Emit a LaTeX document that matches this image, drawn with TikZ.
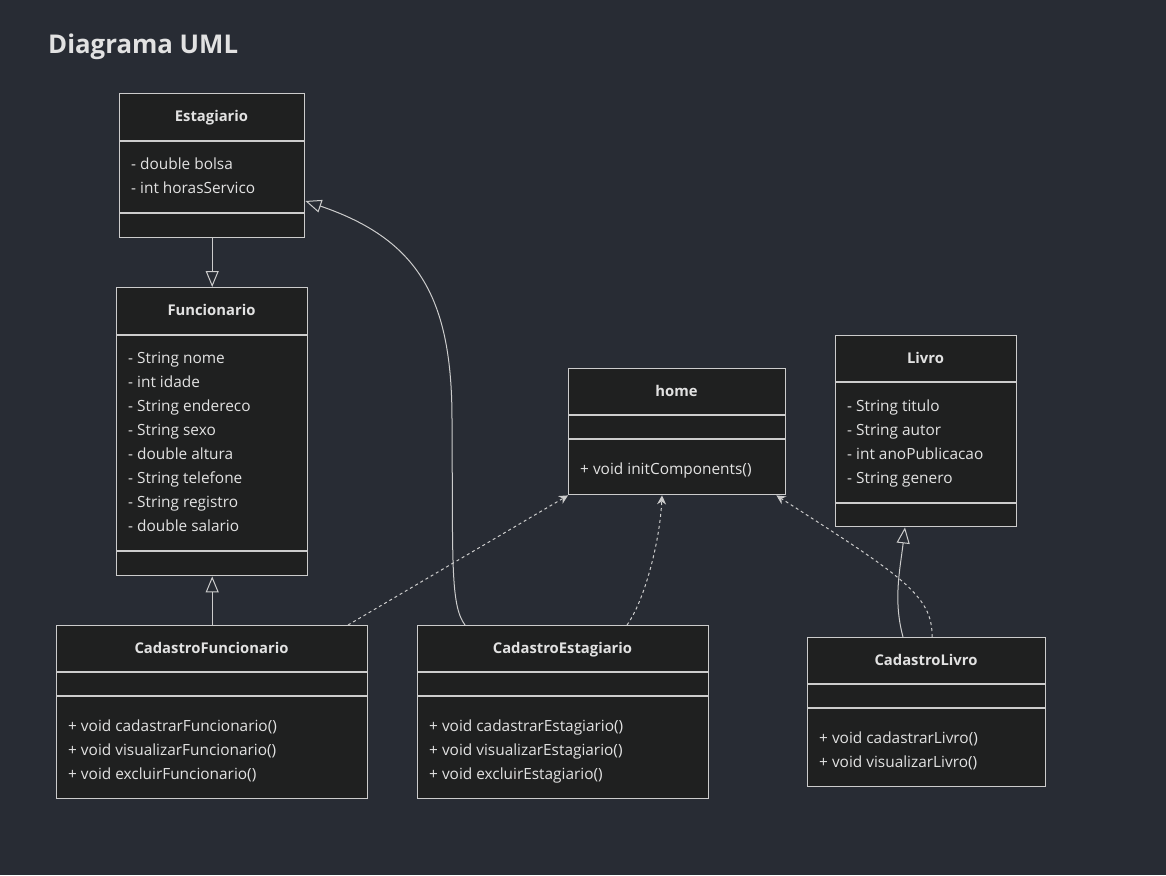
\documentclass[tikz,border=0pt]{standalone}
\usepackage{fontspec}
\setmainfont{Open Sans}
\usetikzlibrary{arrows.meta,calc}
\definecolor{bgc}{HTML}{282C34}
\definecolor{boxc}{HTML}{1F2020}
\definecolor{linec}{HTML}{CCCCCC}
\definecolor{txtc}{HTML}{E2E2E2}
\tikzset{
  box/.style={draw=linec, fill=boxc, line width=1.4pt, rectangle, anchor=north west, inner sep=0pt},
  divline/.style={draw=linec, line width=1.4pt},
  ctitle/.style={text=txtc, font=\fontsize{14.8}{17}\selectfont\bfseries, inner sep=0pt, anchor=base, yshift=-5pt},
  member/.style={text=txtc, font=\fontsize{15.4}{18}\selectfont, anchor=base west, inner sep=0pt, yshift=-5pt},
  gen/.style={draw=linec, line width=1pt, -{Triangle[open, length=16pt, width=13pt, line width=1pt]}},
  dep/.style={draw=linec, line width=1pt, dash pattern=on 3pt off 3pt, -{Stealth[length=9pt, width=9pt, inset=3pt, fill=linec]}},
}
\begin{document}
\begin{tikzpicture}[x=1pt, y=-1pt]
\fill[bgc] (0,0) rectangle (1166,875);
\useasboundingbox (0,0) rectangle (1166,875);

\node[text=txtc, font=\fontsize{25.8}{30}\selectfont\bfseries, anchor=base west, inner sep=0pt] (ttl) at (48,54) {Diagrama UML};

% Estagiario
\node[box, minimum width=185pt, minimum height=144pt] (est) at (119,93) {};
\draw[divline] (119,141) -- (304,141);
\draw[divline] (119,213) -- (304,213);
\node[ctitle] (estT) at (211.5,116) {Estagiario};
\node[member] (estA1) at (131,164) {- double bolsa};
\node[member] (estA2) at (131,188) {- int horasServico};

% Funcionario
\node[box, minimum width=191pt, minimum height=288pt] (fun) at (116,287) {};
\draw[divline] (116,335) -- (307,335);
\draw[divline] (116,551) -- (307,551);
\node[ctitle] (funT) at (211.5,310) {Funcionario};
\node[member] (funA1) at (128,358) {- String nome};
\node[member] (funA2) at (128,382) {- int idade};
\node[member] (funA3) at (128,406) {- String endereco};
\node[member] (funA4) at (128,430) {- String sexo};
\node[member] (funA5) at (128,454) {- double altura};
\node[member] (funA6) at (128,478) {- String telefone};
\node[member] (funA7) at (128,502) {- String registro};
\node[member] (funA8) at (128,526) {- double salario};

% home
\node[box, minimum width=217pt, minimum height=126pt] (home) at (568,368) {};
\draw[divline] (568,415) -- (785,415);
\draw[divline] (568,439) -- (785,439);
\node[ctitle] (homeT) at (676.5,391) {home};
\node[member] (homeM1) at (580,469) {+ void initComponents()};

% Livro
\node[box, minimum width=181pt, minimum height=191pt] (liv) at (835,335) {};
\draw[divline] (835,382) -- (1016,382);
\draw[divline] (835,503) -- (1016,503);
\node[ctitle] (livT) at (925.5,358) {Livro};
\node[member] (livA1) at (847,406) {- String titulo};
\node[member] (livA2) at (847,430) {- String autor};
\node[member] (livA3) at (847,454) {- int anoPublicacao};
\node[member] (livA4) at (847,478) {- String genero};

% CadastroFuncionario
\node[box, minimum width=311pt, minimum height=173pt] (cfun) at (56,625) {};
\draw[divline] (56,672) -- (367,672);
\draw[divline] (56,696) -- (367,696);
\node[ctitle] (cfunT) at (211.5,648) {CadastroFuncionario};
\node[member] (cfunM1) at (68,726) {+ void cadastrarFuncionario()};
\node[member] (cfunM2) at (68,750) {+ void visualizarFuncionario()};
\node[member] (cfunM3) at (68,774) {+ void excluirFuncionario()};

% CadastroEstagiario
\node[box, minimum width=291pt, minimum height=173pt] (cest) at (417,625) {};
\draw[divline] (417,672) -- (708,672);
\draw[divline] (417,696) -- (708,696);
\node[ctitle] (cestT) at (562.5,648) {CadastroEstagiario};
\node[member] (cestM1) at (429,726) {+ void cadastrarEstagiario()};
\node[member] (cestM2) at (429,750) {+ void visualizarEstagiario()};
\node[member] (cestM3) at (429,774) {+ void excluirEstagiario()};

% CadastroLivro
\node[box, minimum width=238pt, minimum height=149pt] (cliv) at (807,637) {};
\draw[divline] (807,684) -- (1045,684);
\draw[divline] (807,708) -- (1045,708);
\node[ctitle] (clivT) at (926,660) {CadastroLivro};
\node[member] (clivM1) at (819,738) {+ void cadastrarLivro()};
\node[member] (clivM2) at (819,762) {+ void visualizarLivro()};

% connectors
\draw[gen] (est.south) -- (fun.north);
\draw[gen] (cfun.north -| fun.south) -- (fun.south);
\draw[gen] ($(cest.north west)+(48,0)$) .. controls (450,605) and (453,560) .. (452,420)
   .. controls (452,300) and (420,240) .. (est.east |- 0,201);
\draw[gen] ($(cliv.north west)+(96,0)$) .. controls (893,600) and (900,570) .. ($(liv.south west)+(70,0)$);
\draw[dep] ($(cfun.north west)+(292,0)$) -- (home.south west);
\draw[dep] ($(cest.north west)+(210,0)$) .. controls (645,600) and (660,540) .. ($(home.south west)+(94,0)$);
\draw[dep] ($(cliv.north west)+(125,0)$) .. controls (933,595) and (900,575) .. ($(home.south east)+(-10,0)$);
\end{tikzpicture}
\end{document}
